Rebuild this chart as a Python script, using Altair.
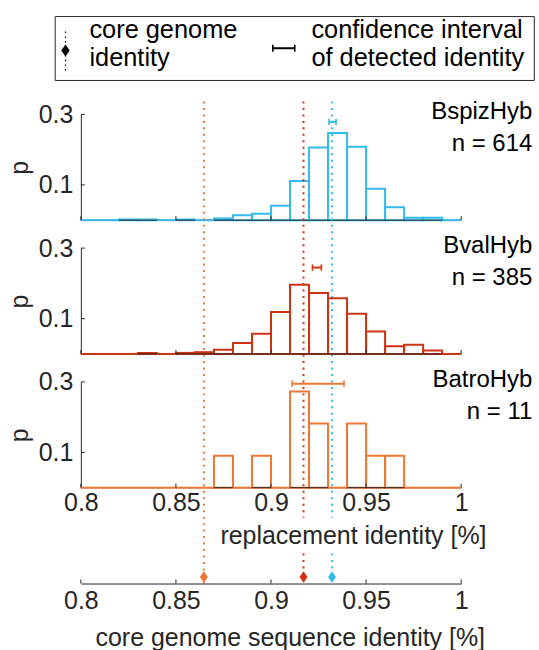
import altair as alt
import pandas as pd

# ---------------- data ----------------
species = ["BspizHyb", "BvalHyb", "BatroHyb"]
counts = [614, 385, 11]
colors = ["#33BBEE", "#CC3311", "#EE7733"]

bin_starts = [0.80, 0.81, 0.82, 0.83, 0.84, 0.85, 0.86, 0.87, 0.88, 0.89,
              0.90, 0.91, 0.92, 0.93, 0.94, 0.95, 0.96, 0.97, 0.98, 0.99]
bin_ends = [0.81, 0.82, 0.83, 0.84, 0.85, 0.86, 0.87, 0.88, 0.89, 0.90,
            0.91, 0.92, 0.93, 0.94, 0.95, 0.96, 0.97, 0.98, 0.99, 1.00]

p_bspiz = [0.000, 0.000, 0.002, 0.002, 0.000, 0.002, 0.000, 0.005, 0.014, 0.018,
           0.041, 0.111, 0.206, 0.247, 0.208, 0.089, 0.037, 0.007, 0.007, 0.000]
p_bval = [0.000, 0.000, 0.000, 0.003, 0.000, 0.003, 0.005, 0.012, 0.031, 0.057,
          0.119, 0.196, 0.173, 0.158, 0.114, 0.064, 0.022, 0.026, 0.010, 0.000]
p_batro = [0.000, 0.000, 0.000, 0.000, 0.000, 0.000, 0.000, 0.0909, 0.000, 0.0909,
           0.000, 0.2727, 0.1818, 0.000, 0.1818, 0.0909, 0.0909, 0.000, 0.000, 0.000]

core_identity = [0.9321, 0.9171, 0.8647]
ci_low = [0.9305, 0.9218, 0.9111]
ci_high = [0.9342, 0.9265, 0.9384]
ci_y = [0.279, 0.245, 0.295]

x_ticks = [0.8, 0.85, 0.9, 0.95, 1.0]
y_ticks = [0.1, 0.3]

legend_core = ["core genome", "identity"]
legend_ci = ["confidence interval", "of detected identity"]
x_title_top = "replacement identity [%]"
x_title_bottom = "core genome sequence identity [%]"
y_title = "p"

# ---------------- tables ----------------
rows = []
for sp, ps in zip(species, [p_bspiz, p_bval, p_batro]):
    for s, e, p in zip(bin_starts, bin_ends, ps):
        rows.append({"species": sp, "bin_start": s, "bin_end": e, "p": p})
hist_df = pd.DataFrame(rows)
core_df = pd.DataFrame({"species": species, "core": core_identity})
ci_df = pd.DataFrame({"species": species, "lo": ci_low, "hi": ci_high, "cy": ci_y})
label_df = pd.DataFrame({"species": species, "n": counts})
xtick_df = pd.DataFrame({"t": x_ticks})
ytick_df = pd.DataFrame({"t": y_ticks})
one = pd.DataFrame({"k": [0]})

# ---------------- layout / style ----------------
W, H, GAP, HB = 381, 106, 28, 68
FONT = "Liberation Sans"
AX = "#262626"
FS = 25
LW = 2
DASH = [2, 4.5]

x_scale = alt.Scale(domain=[0.8, 1.0], nice=False, zero=False)
y_scale = alt.Scale(domain=[0, 0.3], nice=False, zero=True)
col_scale = alt.Scale(domain=species, range=colors)
diamond = "M0,-1L0.7,0L0,1L-0.7,0Z"

top_xaxis = alt.Axis(values=x_ticks, format="~g", domain=False, ticks=False, tickSize=0,
                     labelPadding=3, labelFontSize=FS, labelFont=FONT, labelColor=AX,
                     labelFlush=False, labelOverlap=False, grid=False,
                     title=x_title_top, titleFont=FONT, titleFontSize=FS,
                     titleFontWeight="normal", titleColor=AX, titleX=272.6, titleY=36,
                     titleAlign="center", titleBaseline="top")
yaxis = alt.Axis(values=y_ticks, format=".1f", domain=True, domainColor=AX, domainWidth=1,
                 ticks=False, tickSize=0, labelPadding=8, labelFontSize=FS, labelFont=FONT,
                 labelColor=AX, grid=False, title=y_title, titleFont=FONT, titleFontSize=FS,
                 titleFontWeight="normal", titleColor=AX, titleX=-48.7, titleY=H / 2,
                 titleAngle=270, titleAlign="center", titleBaseline="bottom")
bottom_axis = alt.Axis(values=x_ticks, format="~g", domain=True, domainColor=AX, domainWidth=1,
                       ticks=False, tickSize=0, labelPadding=5, labelFontSize=FS, labelFont=FONT,
                       labelColor=AX, labelFlush=False, labelOverlap=False, grid=False,
                       title=x_title_bottom, titleFont=FONT, titleFontSize=FS,
                       titleFontWeight="normal", titleColor=AX, titleX=209.3, titleY=42.25,
                       titleAlign="center", titleBaseline="top")


def panel(i):
    sp, col = species[i], colors[i]
    xaxis = top_xaxis if i == 2 else None

    def X(f):
        return alt.X(f, scale=x_scale, axis=xaxis)

    def Y(f):
        return alt.Y(f, scale=y_scale, axis=yaxis)

    base_h = alt.Chart(hist_df).transform_filter(alt.datum.species == sp)
    bars = base_h.transform_filter(alt.datum.p > 0).mark_bar(
        fillOpacity=0, stroke=col, strokeWidth=LW).encode(
        x=X("bin_start:Q"), x2="bin_end:Q", y=Y("p:Q"), y2=alt.datum(0))
    baseline = alt.Chart(one).mark_rule(color=AX, strokeWidth=1).encode(
        x=alt.value(0), x2=alt.value(W), y=alt.value(H))
    zeros = base_h.transform_filter(alt.datum.p == 0).mark_rule(
        color=col, strokeWidth=LW).encode(x=X("bin_start:Q"), x2="bin_end:Q", y=Y("p:Q"))
    xt = alt.Chart(xtick_df).mark_rule(color=AX, strokeWidth=1).encode(
        x=X("t:Q"), y=alt.value(H), y2=alt.value(H - 4))
    yt = alt.Chart(ytick_df).mark_rule(color=AX, strokeWidth=1).encode(
        y=Y("t:Q"), x=alt.value(0), x2=alt.value(4))

    ci_base = alt.Chart(ci_df).transform_filter(alt.datum.species == sp)
    err = ci_base.mark_rule(color=col, strokeWidth=LW).encode(
        x=X("lo:Q"), x2="hi:Q", y=Y("cy:Q"))
    caps = ci_base.transform_fold(["lo", "hi"], as_=["end", "xv"]).transform_calculate(
        c1="datum.cy - 0.009", c2="datum.cy + 0.009").mark_rule(
        color=col, strokeWidth=1.6).encode(x=X("xv:Q"), y=Y("c1:Q"), y2="c2:Q")

    lab = alt.Chart(label_df).transform_filter(alt.datum.species == sp).transform_calculate(
        nl="'n = ' + datum.n").mark_text(align="right", baseline="alphabetic", font=FONT,
                                          fontSize=24, color="black")
    name_t = lab.encode(x=alt.value(452.3), y=alt.value(5), text="species:N")
    n_t = lab.encode(x=alt.value(452.3), y=alt.value(37), text="nl:N")

    layers = [bars, baseline, zeros, xt, yt, err, caps, name_t, n_t]

    if i == 0:
        lines_a = alt.Chart(core_df).transform_filter(alt.datum.species == "BatroHyb").mark_rule(
            strokeDash=DASH, strokeWidth=LW).encode(
            x=X("core:Q"),
            color=alt.Color("species:N", scale=col_scale, legend=None),
            y=alt.value(-13), y2=alt.value(470))
        lines_b = alt.Chart(core_df).transform_filter(alt.datum.species != "BatroHyb").mark_rule(
            strokeDash=DASH, strokeWidth=LW).encode(
            x=X("core:Q"),
            color=alt.Color("species:N", scale=col_scale, legend=None),
            y=alt.value(-13), y2=alt.value(404))
        box = alt.Chart(one).mark_rect(fill="white", stroke=AX, strokeWidth=1).encode(
            x=alt.value(-25.7), x2=alt.value(454.3), y=alt.value(-98), y2=alt.value(-34))
        lg_line = alt.Chart(one).mark_rule(color="black", strokeWidth=1.2, strokeDash=[1.5, 3.2]).encode(
            x=alt.value(-15.4), y=alt.value(-83), y2=alt.value(-42))
        lg_dia = alt.Chart(one).mark_point(shape=diamond, filled=True, size=144, color="black",
                                           opacity=1).encode(x=alt.value(-15.4), y=alt.value(-64))
        lg_err = alt.Chart(one).mark_rule(color="black", strokeWidth=LW).encode(
            x=alt.value(192.3), x2=alt.value(214.3), y=alt.value(-66.3))
        lg_cap1 = alt.Chart(one).mark_rule(color="black", strokeWidth=1.6).encode(
            x=alt.value(192.3), y=alt.value(-69.8), y2=alt.value(-62.8))
        lg_cap2 = alt.Chart(one).mark_rule(color="black", strokeWidth=1.6).encode(
            x=alt.value(214.3), y=alt.value(-69.8), y2=alt.value(-62.8))
        lg_t1 = alt.Chart(one).mark_text(align="left", baseline="alphabetic", font=FONT,
                                         fontSize=25.4, lineHeight=29, color="black").encode(
            x=alt.value(8.6), y=alt.value(-77), text=alt.value(legend_core))
        lg_t2 = alt.Chart(one).mark_text(align="left", baseline="alphabetic", font=FONT,
                                         fontSize=25.4, lineHeight=29, color="black").encode(
            x=alt.value(231), y=alt.value(-77), text=alt.value(legend_ci))
        layers = layers + [lines_a, lines_b, box, lg_line, lg_dia, lg_err, lg_cap1, lg_cap2,
                           lg_t1, lg_t2]

    return alt.layer(*layers).properties(width=W, height=H)


b_lines = alt.Chart(core_df).transform_filter(alt.datum.species != "BatroHyb").mark_rule(
    strokeDash=DASH, strokeWidth=LW).encode(
    x=alt.X("core:Q", scale=x_scale, axis=bottom_axis),
    color=alt.Color("species:N", scale=col_scale, legend=None),
    y=alt.value(38), y2=alt.value(HB))
b_ticks = alt.Chart(xtick_df).mark_rule(color=AX, strokeWidth=1).encode(
    x=alt.X("t:Q", scale=x_scale, axis=bottom_axis), y=alt.value(HB), y2=alt.value(HB - 4))
b_dia = alt.Chart(core_df).mark_point(shape=diamond, filled=True, size=130, opacity=1).encode(
    x=alt.X("core:Q", scale=x_scale, axis=bottom_axis),
    color=alt.Color("species:N", scale=col_scale, legend=None),
    y=alt.value(HB - 6.6))
bottom = alt.layer(b_lines, b_ticks, b_dia).properties(width=W, height=HB)

chart = alt.vconcat(panel(0), panel(1), panel(2), bottom, spacing=GAP, bounds="flush").properties(
    padding={"left": 7, "top": 15, "right": 4, "bottom": 2}
).configure(font=FONT).configure_view(strokeWidth=0)

chart.save("out.html", embed_options={"renderer": "svg", "actions": False})
